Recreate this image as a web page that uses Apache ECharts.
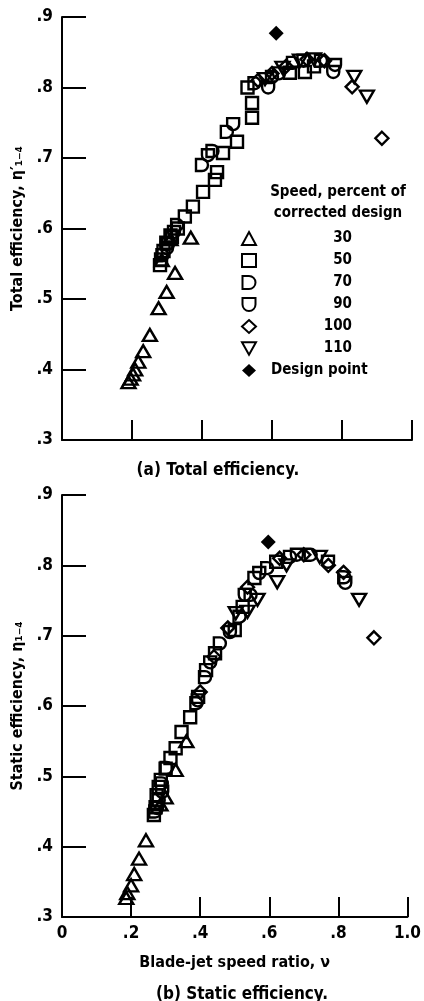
<!DOCTYPE html>
<html><head><meta charset="utf-8">
<script src="https://cdn.jsdelivr.net/npm/echarts@6/dist/echarts.min.js"></script>
<style>html,body{margin:0;padding:0;background:#fff}#c{width:424px;height:1001px}</style>
</head><body><div id="c"></div>
<script>
// Legend / series names
const speedLabels = ['30', '50', '70', '90', '100', '110', 'Design point'];
const xTicks = [0, 0.2, 0.4, 0.6, 0.8, 1.0];
const yTicks = [0.3, 0.4, 0.5, 0.6, 0.7, 0.8, 0.9];

// (a) Total efficiency  [blade-jet speed ratio, efficiency]
const top30 = [[0.19,0.382],[0.196,0.387],[0.203,0.393],[0.209,0.400],[0.218,0.411],[0.232,0.426],[0.251,0.449],[0.276,0.487],[0.299,0.510],[0.323,0.537],[0.368,0.587],[0.285,0.555],[0.31,0.585]];
const top50 = [[0.28,0.548],[0.283,0.556],[0.29,0.568],[0.298,0.58],[0.31,0.59],[0.314,0.588],[0.331,0.6],[0.351,0.617],[0.374,0.631],[0.403,0.652],[0.437,0.669],[0.443,0.68],[0.46,0.707],[0.5,0.723],[0.543,0.757],[0.543,0.778],[0.53,0.8],[0.651,0.821],[0.694,0.822],[0.72,0.83]];
const top70 = [[0.287,0.562],[0.303,0.578],[0.329,0.605],[0.4,0.69],[0.43,0.71],[0.471,0.737],[0.55,0.806],[0.6,0.815],[0.66,0.835],[0.74,0.838]];
const top90 = [[0.3,0.572],[0.32,0.595],[0.417,0.704],[0.489,0.748],[0.589,0.800],[0.62,0.82],[0.69,0.838],[0.78,0.832],[0.775,0.822]];
const top100 = [[0.56,0.81],[0.6,0.82],[0.64,0.83],[0.7,0.84],[0.75,0.838],[0.829,0.801],[0.914,0.728]];
const top110 = [[0.58,0.812],[0.63,0.828],[0.68,0.838],[0.72,0.84],[0.835,0.815],[0.871,0.787]];
const topDesign = [[0.612,0.877]];

// (b) Static efficiency
const bot30 = [[0.186,0.327],[0.189,0.334],[0.2,0.345],[0.209,0.361],[0.223,0.383],[0.243,0.409],[0.285,0.46],[0.3,0.47],[0.329,0.509],[0.36,0.55]];
const bot50 = [[0.266,0.445],[0.271,0.456],[0.274,0.473],[0.28,0.485],[0.286,0.495],[0.3,0.511],[0.314,0.526],[0.329,0.54],[0.346,0.563],[0.371,0.584],[0.394,0.613],[0.417,0.651],[0.443,0.675],[0.5,0.708],[0.523,0.741],[0.557,0.782],[0.62,0.805]];
const bot70 = [[0.27,0.45],[0.28,0.466],[0.289,0.49],[0.303,0.512],[0.389,0.604],[0.414,0.641],[0.457,0.689],[0.514,0.727],[0.546,0.758],[0.594,0.796],[0.66,0.812],[0.72,0.815],[0.817,0.783]];
const bot90 = [[0.275,0.455],[0.29,0.478],[0.393,0.608],[0.429,0.662],[0.486,0.705],[0.529,0.758],[0.571,0.789],[0.68,0.815],[0.77,0.805],[0.82,0.775]];
const bot100 = [[0.4,0.62],[0.44,0.67],[0.48,0.711],[0.537,0.769],[0.63,0.81],[0.7,0.815],[0.771,0.8],[0.815,0.79],[0.903,0.697]];
const bot110 = [[0.503,0.732],[0.537,0.734],[0.566,0.751],[0.623,0.776],[0.65,0.8],[0.746,0.812],[0.86,0.751]];
const botDesign = [[0.597,0.833]];

const FONT = "'Liberation Sans Narrow', 'DejaVu Sans Condensed', 'Liberation Sans', sans-serif";
const symbols = {
  '30': 'triangle',
  '50': 'rect',
  '70': 'path://M0,0 L5,0 A5,5 0 0 1 5,10 L0,10 Z',
  '90': 'path://M0,0 L10,0 L10,5 A5,5 0 0 1 0,5 Z',
  '100': 'diamond',
  '110': 'path://M0,0 L10,0 L5,9 Z',
  'Design point': 'diamond'
};
const sizes = {'30':[14,12],'50':[12,12],'70':[12,12],'90':[12,12],'100':[13,13],'110':[14,12],'Design point':[15,15]};

const topSets = [top30, top50, top70, top90, top100, top110, topDesign];
const botSets = [bot30, bot50, bot70, bot90, bot100, bot110, botDesign];

function mk(name, data, g) {
  const filled = name === 'Design point';
  return {
    type: 'scatter', name, data, xAxisIndex: g, yAxisIndex: g,
    symbol: symbols[name], symbolSize: sizes[name],
    itemStyle: { color: filled ? '#000' : 'rgba(0,0,0,0)', borderColor: '#000', borderWidth: filled ? 0 : 2.4, opacity: 1 },
    emphasis: { disabled: true }
  };
}
const series = [];
speedLabels.forEach((n, i) => series.push(mk(n, topSets[i], 0)));
speedLabels.forEach((n, i) => series.push(mk(n, botSets[i], 1)));

const yFmt = v => v.toFixed(1).replace(/^0/, '');
const xFmt = v => v === 0 ? '0' : (v === 1 ? '1.0' : v.toFixed(1).replace(/^0/, ''));
const lbl = { fontFamily: FONT, fontWeight: 'bold', fontSize: 17, color: '#000' };
const nameStyle = { fontFamily: FONT, fontWeight: 'bold', fontSize: 16, color: '#000' };

function yAx(g, name) {
  return {
    type: 'value', gridIndex: g, min: yTicks[0], max: yTicks[yTicks.length - 1], interval: 0.1,
    axisLine: { show: true, lineStyle: { color: '#000', width: 2 } },
    axisTick: { show: true, inside: true, length: 24, lineStyle: { color: '#000', width: 2 } },
    axisLabel: { formatter: yFmt, margin: 9, ...lbl },
    splitLine: { show: false },
    name, nameLocation: 'middle', nameGap: 34, nameRotate: 90,
    nameTextStyle: nameStyle
  };
}
function xAx(g, showLabel, name) {
  return {
    type: 'value', gridIndex: g, min: xTicks[0], max: xTicks[xTicks.length - 1], interval: 0.2,
    axisLine: { show: true, onZero: false, lineStyle: { color: '#000', width: 2 } },
    axisTick: { show: true, inside: true, length: 20, lineStyle: { color: '#000', width: 2 } },
    axisLabel: { show: showLabel, formatter: xFmt, margin: 8, ...lbl },
    splitLine: { show: false },
    name: name || '', nameLocation: 'middle', nameGap: 38,
    nameTextStyle: nameStyle
  };
}

const chart = echarts.init(document.getElementById('c'), null, { renderer: 'canvas' });
chart.setOption({
  backgroundColor: '#fff',
  animation: false,
  grid: [
    { left: 62, top: 17, width: 350, height: 423 },
    { left: 62, top: 495, width: 350, height: 422 }
  ],
  xAxis: [xAx(0, false), xAx(1, true, 'Blade-jet speed ratio, \u03BD')],
  yAxis: [yAx(0, 'Total efficiency, \u03B7\u2032\u2081\u208B\u2084'), yAx(1, 'Static efficiency, \u03B7\u2081\u208B\u2084')],
  title: [
    { text: 'Speed, percent of\ncorrected design', left: 333, top: 177, textAlign: 'center',
      textStyle: { fontFamily: FONT, fontWeight: 'bold', fontSize: 15, lineHeight: 21, color: '#000' } },
    { text: '(a) Total efficiency.', left: 213, top: 457, textAlign: 'center',
      textStyle: { fontFamily: FONT, fontWeight: 'bold', fontSize: 17, color: '#000' } },
    { text: '(b) Static efficiency.', left: 237, top: 981, textAlign: 'center',
      textStyle: { fontFamily: FONT, fontWeight: 'bold', fontSize: 17, color: '#000' } }
  ],
  legend: {
    data: speedLabels, orient: 'vertical', left: 236, top: 226,
    itemWidth: 14, itemHeight: 13, itemGap: 7, selectedMode: false,
    formatter: n => n === 'Design point' ? '{d|' + n + '}' : '{n|' + n + '}',
    textStyle: {
      fontFamily: FONT, fontWeight: 'bold', fontSize: 15, color: '#000',
      rich: {
        n: { width: 91, align: 'right', fontFamily: FONT, fontWeight: 'bold', fontSize: 15 },
        d: { padding: [0, 0, 0, 10], fontFamily: FONT, fontWeight: 'bold', fontSize: 15 }
      }
    }
  },
  series
});
</script></body></html>
